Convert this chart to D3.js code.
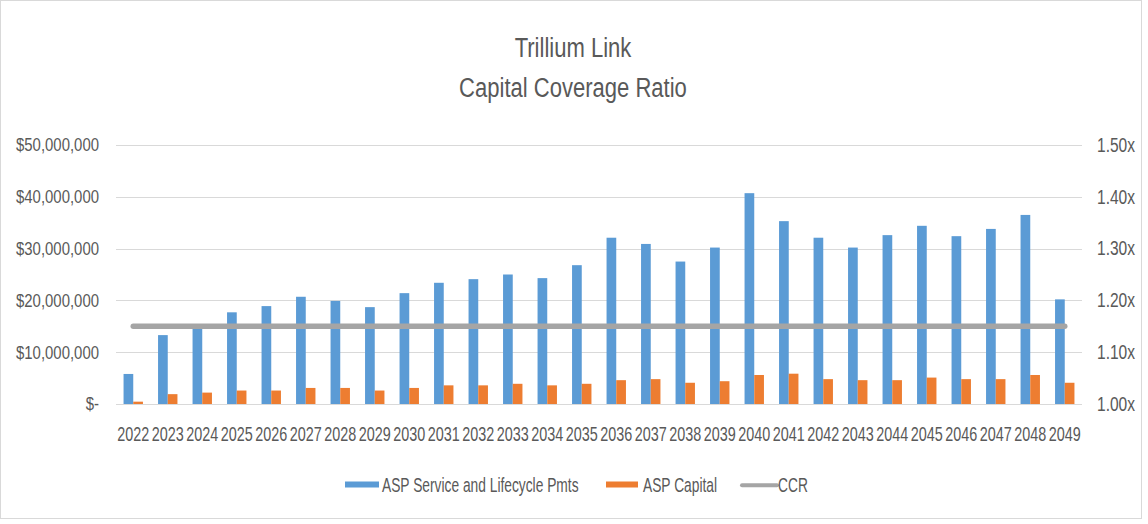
<!DOCTYPE html>
<html>
<head>
<meta charset="utf-8">
<script src="https://cdn.jsdelivr.net/npm/d3@7/dist/d3.min.js"></script>
<style>
  html, body { margin: 0; padding: 0; background: #fff; }
  svg text { font-family: "Liberation Sans", Arial, sans-serif; fill: #595959; }
</style>
</head>
<body>
<svg id="chart" width="1148" height="524"></svg>
<script>
const years = ["2022","2023","2024","2025","2026","2027","2028","2029","2030","2031","2032","2033","2034","2035","2036","2037","2038","2039","2040","2041","2042","2043","2044","2045","2046","2047","2048","2049"];
const servicePmts = [5.8e6,13.3e6,14.6e6,17.7e6,18.9e6,20.7e6,19.9e6,18.7e6,21.4e6,23.4e6,24.1e6,25.0e6,24.3e6,26.8e6,32.1e6,30.9e6,27.5e6,30.2e6,40.7e6,35.3e6,32.1e6,30.2e6,32.6e6,34.4e6,32.4e6,33.8e6,36.5e6,20.2e6];
const capitalPmts = [0.45e6,1.9e6,2.2e6,2.6e6,2.6e6,3.1e6,3.1e6,2.6e6,3.1e6,3.6e6,3.6e6,3.9e6,3.6e6,3.9e6,4.6e6,4.8e6,4.1e6,4.4e6,5.6e6,5.85e6,4.8e6,4.6e6,4.6e6,5.1e6,4.8e6,4.8e6,5.6e6,4.1e6];
const ccr = [1.15,1.15,1.15,1.15,1.15,1.15,1.15,1.15,1.15,1.15,1.15,1.15,1.15,1.15,1.15,1.15,1.15,1.15,1.15,1.15,1.15,1.15,1.15,1.15,1.15,1.15,1.15,1.15];
const leftTicks = [0,10e6,20e6,30e6,40e6,50e6];
const leftTickLabels = ["$-","$10,000,000","$20,000,000","$30,000,000","$40,000,000","$50,000,000"];
const rightTicks = [1.0,1.1,1.2,1.3,1.4,1.5];
const rightTickLabels = ["1.00x","1.10x","1.20x","1.30x","1.40x","1.50x"];
const seriesNames = ["ASP Service and Lifecycle Pmts","ASP Capital","CCR"];
const colors = ["#5B9BD5","#ED7D31","#A5A5A5"];
const titleLines = ["Trillium Link","Capital Coverage Ratio"];

const svg = d3.select("#chart");
const plot = {left:116, right:1082, top:145, bottom:404};

// condensed, tall text (mimics the stretched Calibri of the original)
function condense(sel, size, sx) {
  sel.each(function(){
    const t = d3.select(this);
    const x = +t.attr("x") || 0;
    t.attr("x", x / sx).attr("transform", `scale(${sx},1)`)
     .style("font-size", size + "px").attr("fill", "#595959")
     .style("font-family", "'Liberation Sans', Arial, sans-serif");
  });
}

// frame
svg.append("rect").attr("x",0.5).attr("y",0.5).attr("width",1141).attr("height",518)
  .attr("fill","#fff").attr("stroke","#d9d9d9").attr("stroke-width",1);

// title
const titles = svg.append("g").selectAll("text").data(titleLines).join("text")
  .attr("x", 573).attr("y",(d,i)=> i === 0 ? 57 : 97.5)
  .attr("text-anchor","middle").text(d=>d);
condense(titles, 28, 0.787);

const pi = 1 - 19.4/34.5;
const x = d3.scaleBand().domain(years).range([plot.left, plot.right]).paddingInner(pi).paddingOuter(pi/2);
const x1 = d3.scaleBand().domain([0,1]).range([0, x.bandwidth()]).padding(0);
const y = d3.scaleLinear().domain([0,50e6]).range([plot.bottom, plot.top]);
const y2 = d3.scaleLinear().domain([1.0,1.5]).range([plot.bottom, plot.top]);

// gridlines
svg.append("g").selectAll("line").data(leftTicks).join("line")
  .attr("x1",plot.left).attr("x2",plot.right)
  .attr("y1",d=>Math.round(y(d))+0.5).attr("y2",d=>Math.round(y(d))+0.5)
  .attr("stroke","#d9d9d9").attr("stroke-width",1);

// left axis
const leftAxis = d3.axisLeft(y).tickValues(leftTicks).tickSize(0).tickPadding(17)
  .tickFormat((d,i)=>leftTickLabels[i]);
const gl = svg.append("g").attr("transform",`translate(${plot.left},0)`).call(leftAxis);
gl.select(".domain").remove();
condense(gl.selectAll("text"), 18.5, 0.807);

// right axis
const rightAxis = d3.axisRight(y2).tickValues(rightTicks).tickSize(0).tickPadding(15)
  .tickFormat((d,i)=>rightTickLabels[i]);
const gr = svg.append("g").attr("transform",`translate(${plot.right},0)`).call(rightAxis);
gr.select(".domain").remove();
condense(gr.selectAll("text"), 19.5, 0.797);

// bottom axis
const bottomAxis = d3.axisBottom(x).tickSize(0).tickPadding(23.3);
const gb = svg.append("g").attr("transform",`translate(0,${plot.bottom})`).call(bottomAxis);
gb.select(".domain").remove();
condense(gb.selectAll("text"), 20, 0.72);

// bars
const rows = years.map((yr,i)=>({yr, vals:[servicePmts[i], capitalPmts[i]]}));
const groups = svg.append("g").selectAll("g").data(rows).join("g")
  .attr("transform",d=>`translate(${x(d.yr)},0)`);
groups.selectAll("rect").data(d=>d.vals.map((v,k)=>({k,v}))).join("rect")
  .attr("x",d=>x1(d.k)).attr("width",x1.bandwidth())
  .attr("y",d=>y(d.v)).attr("height",d=>plot.bottom - y(d.v))
  .attr("fill",d=>colors[d.k]);

// CCR line
const line = d3.line().x((d,i)=>x(years[i]) + x.bandwidth()/2).y(d=>y2(d));
svg.append("path").datum(ccr).attr("d",line).attr("fill","none")
  .attr("stroke",colors[2]).attr("stroke-width",5.5).attr("stroke-linecap","round");

// legend
const legend = svg.append("g");
const legItems = [
  {name:seriesNames[0], sx:345, sw:34, tx:382, type:"rect", c:colors[0]},
  {name:seriesNames[1], sx:606, sw:32, tx:643, type:"rect", c:colors[1]},
  {name:seriesNames[2], sx:742, sw:35, tx:778, type:"line", c:colors[2]}
];
legItems.forEach(it=>{
  if (it.type==="rect") {
    legend.append("rect").attr("x",it.sx).attr("y",481.5).attr("width",it.sw).attr("height",6).attr("fill",it.c);
  } else {
    legend.append("line").attr("x1",it.sx).attr("x2",it.sx+it.sw).attr("y1",485.3).attr("y2",485.3)
      .attr("stroke",it.c).attr("stroke-width",4).attr("stroke-linecap","round");
  }
  const t = legend.append("text").attr("x",it.tx).attr("y",492.5).text(it.name);
  condense(t, 19.5, 0.707);
});
</script>
</body>
</html>
